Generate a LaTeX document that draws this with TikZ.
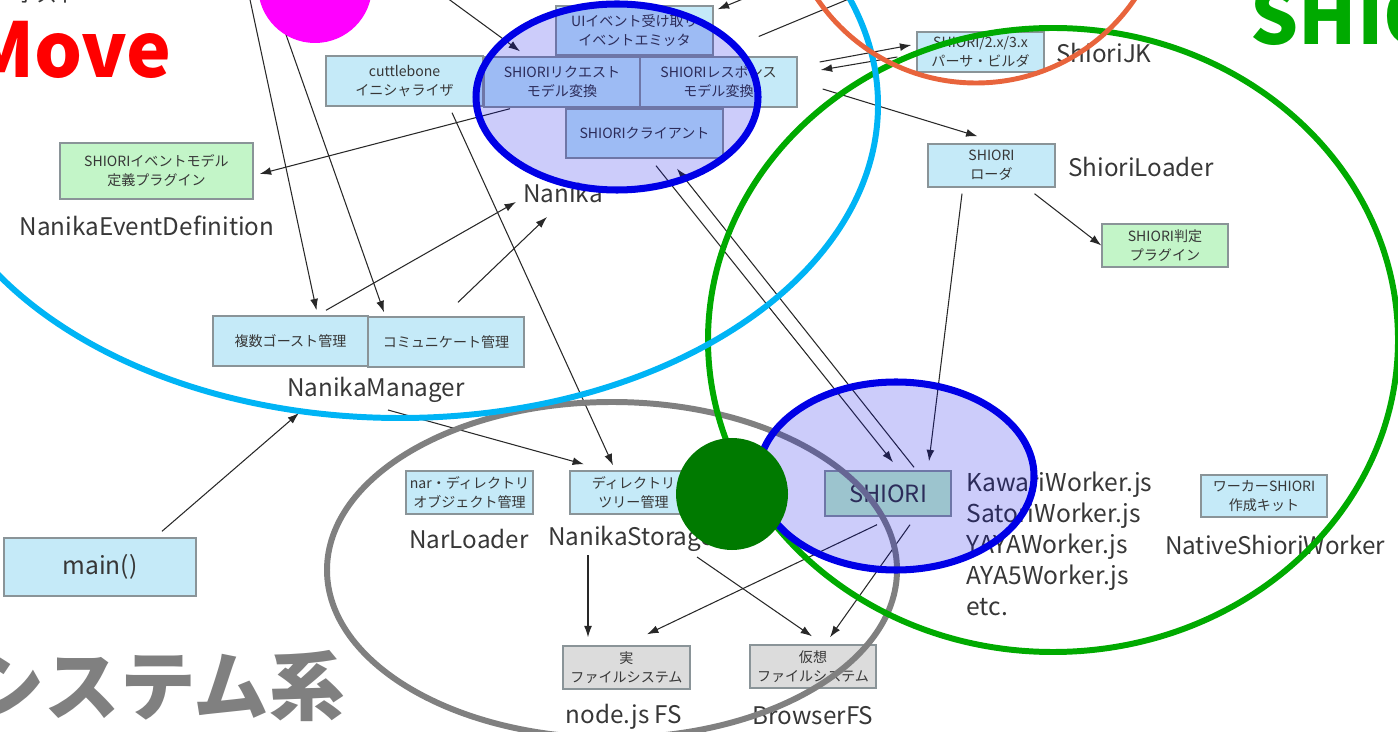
\documentclass[tikz,border=0pt]{standalone}
\usepackage{fontspec}
\setmainfont{Noto Sans CJK JP}
\usetikzlibrary{arrows.meta,calc}

\definecolor{boxcyan}{RGB}{197,234,248}
\definecolor{boxgreen}{RGB}{195,245,200}
\definecolor{boxgrey}{RGB}{220,220,220}
\definecolor{boxline}{RGB}{138,148,152}
\definecolor{textdark}{RGB}{55,55,55}
\definecolor{linedark}{RGB}{40,40,40}
\definecolor{movered}{RGB}{255,0,0}
\definecolor{ringcyan}{RGB}{0,180,245}
\definecolor{ringorange}{RGB}{232,100,60}
\definecolor{ringgreen}{RGB}{0,170,0}
\definecolor{ringgrey}{RGB}{128,128,128}
\definecolor{ringblue}{RGB}{0,0,230}
\definecolor{dotgreen}{RGB}{0,122,0}
\definecolor{dotmagenta}{RGB}{255,0,255}

\begin{document}
\begin{tikzpicture}[x=0.02cm,y=-0.02cm,
  box/.style={draw=boxline,line width=0.8pt,fill=boxcyan,text=textdark,inner sep=0pt,
    font=\fontsize{8}{10.8}\selectfont,align=center},
  plugin/.style={box,fill=boxgreen},
  fsbox/.style={box,fill=boxgrey},
  wh/.style 2 args={minimum width=#1*0.02cm,minimum height=#2*0.02cm},
  lbl/.style={text=textdark,inner sep=0pt,font=\fontsize{13.8}{17}\selectfont},
  caption/.style={inner sep=0pt,font=\bfseries\fontsize{43}{50}\selectfont},
  link/.style={draw=linedark,line width=0.6pt,-{Latex[length=6.5pt,width=4.5pt]}},
  ring/.style={line width=3.4pt}]

% picture frame
\clip (0,0) rectangle (1398,732);

% big captions
\node[inner sep=0pt,anchor=base west,text=textdark,font=\fontsize{12}{14}\selectfont] (host) at (15,3) {ホスト};
\node[caption,anchor=base east,text=movered] (move) at (172,78) {Move};
\node[caption,anchor=base west,text=ringgreen] (shioricap) at (1250,45) {SHIORI系};
\node[caption,anchor=base east,text=ringgrey] (fscap) at (345,714) {ファイルシステム系};

% Nanika
\node[box,wh={157}{49}] (uiev) at (634.5,30.5) {UIイベント受け取り\\イベントエミッタ};
\node[box,wh={157}{50}] (cuttle) at (404.5,81) {cuttlebone\\イニシャライザ};
\node[box,wh={156}{50}] (req) at (562,82) {SHIORIリクエスト\\モデル変換};
\node[box,wh={157}{50}] (res) at (718.5,82) {SHIORIレスポンス\\モデル変換};
\node[box,wh={157}{49}] (client) at (644.5,133.5) {SHIORIクライアント};
\node[lbl] (nanika) at (563,193) {Nanika};

% NanikaEventDefinition
\node[plugin,wh={193}{56}] (evdef) at (156.5,171) {SHIORIイベントモデル\\定義プラグイン};
\node[lbl] (evdeflbl) at (147,226) {NanikaEventDefinition};

% NanikaManager
\node[box,wh={155}{50}] (multi) at (290.5,341) {複数ゴースト管理};
\node[box,wh={156}{50}] (comm) at (446,342) {コミュニケート管理};
\node[lbl] (mgr) at (376,390) {NanikaManager};

% main
\node[box,wh={192}{58},font=\fontsize{14}{17}\selectfont] (main) at (100,567) {main()};

% ShioriJK and ShioriLoader
\node[box,wh={127}{40}] (jk) at (980.5,52) {SHIORI/2.x/3.x\\パーサ・ビルダ};
\node[lbl] (jklbl) at (1104,53) {ShioriJK};
\node[box,wh={127}{43}] (loader) at (991.5,165.5) {SHIORI\\ローダ};
\node[lbl] (loaderlbl) at (1141,167) {ShioriLoader};
\node[plugin,wh={126}{43}] (judge) at (1165,245.5) {SHIORI判定\\プラグイン};

% storage
\node[box,wh={127}{43}] (nar) at (469.5,492.5) {nar・ディレクトリ\\オブジェクト管理};
\node[lbl] (narlbl) at (469,539) {NarLoader};
\node[box,wh={127}{43}] (tree) at (633.5,492.5) {ディレクトリ\\ツリー管理};
\node[lbl,anchor=west] (storage) at (548,539) {NanikaStorage};
\node[fsbox,wh={127}{43}] (realfs) at (626.5,667.5) {実\\ファイルシステム};
\node[lbl] (realfslbl) at (624,717) {node.js FS};
\node[fsbox,wh={126}{43}] (virtfs) at (813,666.5) {仮想\\ファイルシステム};
\node[lbl] (virtfslbl) at (813,716) {BrowserFS};

% SHIORI
\node[plugin,wh={126}{45},font=\fontsize{13.5}{16}\selectfont] (shiori) at (888,493.5) {SHIORI};
\node[lbl,anchor=north west,align=left,font=\fontsize{14}{17.6}\selectfont] (workers) at (966,472)
  {KawariWorker.js\\SatoriWorker.js\\YAYAWorker.js\\AYA5Worker.js\\etc.};
\node[box,wh={126}{42}] (native) at (1264,496) {ワーカーSHIORI\\作成キット};
\node[lbl] (nativelbl) at (1275,545) {NativeShioriWorker};

% off-picture ends
\coordinate (hostA) at (249,-5);
\coordinate (hostB) at (272,-5);
\coordinate (hostC) at (443,-5);
\coordinate (outD) at (760,-8);
\coordinate (outE) at (880,-14);

% connectors
\draw[link] (hostA) -- ($(multi.north)+(26,-5)$);
\draw[link] (hostB) -- ($(comm.north)+(-62,-4)$);
\draw[link] (hostC) -- ($(req.north)+(-42,-5)$);
\draw[link] (outD) -- ($(uiev.north east)+(4,4)$);
\draw[link] ($(uiev.east)+(45,6)$) -- (outE);
\draw[link] ($(res.east)+(22,-20)$) -- ($(jk.west)+(-5,-7)$);
\draw[link] ($(jk.west)+(-19,5)$) -- ($(res.east)+(23,-12)$);
\draw[link] ($(res.east)+(25,7)$) -- ($(loader.north)+(-14,-7)$);
\draw[link] ($(loader.south)+(43,6)$) -- (judge.west);
\draw[link] ($(loader.south)+(-29.5,6)$) -- ($(shiori.north)+(41,-9)$);
\draw[link] ($(client.south)+(11.5,7)$) -- ($(shiori.north)+(5,-8)$);
\draw[link] ($(shiori.north)+(26,-3)$) -- ($(client.south)+(32.5,10)$);
\draw[link] ($(req.south)+(-52,1)$) -- ($(evdef.east)+(6,3)$);
\draw[link] ($(multi.north)+(35.5,-5)$) -- ($(nanika)+(-47,9)$);
\draw[link] ($(comm.north)+(12,-14)$) -- ($(nanika)+(-16,24)$);
\draw[link] ($(cuttle.south)+(47.5,6)$) -- ($(tree.north)+(-20.5,-5)$);
\draw[link] ($(mgr)+(12,20)$) -- ($(tree.north)+(-49.5,-6)$);
\draw[link] ($(main.north)+(62,-6)$) -- ($(mgr)+(-77,23)$);
\draw[link] ($(storage.west)+(40,16)$) -- ($(realfs.north)+(-38.5,-8)$);
\draw[link] ($(storage.west)+(149,18)$) -- ($(virtfs.north)+(-1,-8)$);
\draw[link] ($(shiori.south)+(-11,8)$) -- ($(realfs.north)+(20.5,-11)$);
\draw[link] ($(shiori.south)+(22,8)$) -- ($(virtfs.north)+(17,-7)$);

% groups
\draw[ring,ringgrey] (612,570) ellipse [x radius=285, y radius=168];
\draw[ring,ringgreen] (1053,340) ellipse [x radius=345, y radius=312];
\draw[ring,ringcyan] (400,105) ellipse [x radius=478, y radius=313];
\draw[ring,ringorange,line width=2.8pt] (976,-109) circle [radius=192];
\draw[ring,ringblue,line width=4pt,fill=ringblue,fill opacity=0.2] (617,97) ellipse [x radius=141, y radius=93];
\draw[ring,ringblue,line width=4pt,fill=ringblue,fill opacity=0.2] (896,476) ellipse [x radius=138, y radius=94];

% marks
\fill[dotgreen] (732,494) circle [radius=56];
\fill[dotmagenta] (315,-14) circle [radius=57];

\end{tikzpicture}
\end{document}
